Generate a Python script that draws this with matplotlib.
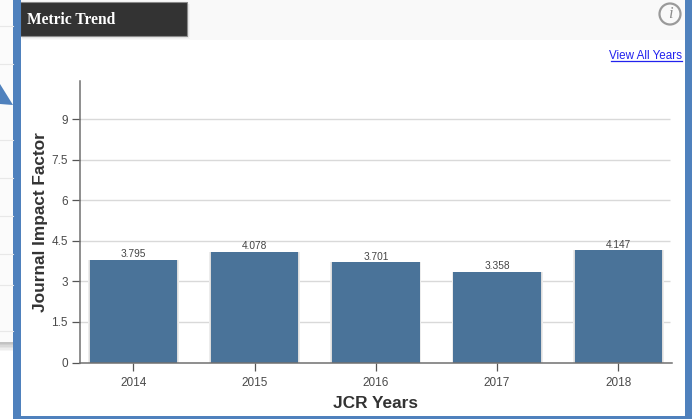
import matplotlib
matplotlib.use("Agg")
import matplotlib.pyplot as plt
from matplotlib.patches import Rectangle, Polygon, Circle

years = ["2014", "2015", "2016", "2017", "2018"]
impact = [3.795, 4.078, 3.701, 3.358, 4.147]
impact_labels = ["3.795", "4.078", "3.701", "3.358", "4.147"]
yticks = [0, 1.5, 3, 4.5, 6, 7.5, 9]
ytick_labels = ["0", "1.5", "3", "4.5", "6", "7.5", "9"]

W, H = 692, 419
plt.rcParams['font.family'] = ['Liberation Sans', 'DejaVu Sans']
fig = plt.figure(figsize=(W/100, H/100), dpi=100, facecolor='white')

bg = fig.add_axes([0, 0, 1, 1], zorder=0)
bg.set_xlim(0, W); bg.set_ylim(H, 0); bg.axis('off')
# page behind the popup
bg.add_patch(Rectangle((0, 0), 13, 342, fc='#fbfbfb', ec='none'))
for y in [26, 64, 140, 178, 216, 254, 285, 331]:
    bg.plot([0, 13], [y, y], color='#e8e8e8', lw=0.8)
for i, a in enumerate([0.55, 0.45, 0.35, 0.25, 0.16, 0.08]):
    bg.add_patch(Rectangle((0, 342 + i*1.5), 13, 1.5, fc='#909090', ec='none', alpha=a))
bg.add_patch(Polygon([(0, 84), (13, 105), (0, 104)], fc='#4f81bd', ec='none'))
# popup
bg.add_patch(Rectangle((20, 0), 665, 40, fc='#f9f9f9', ec='none'))
for i, c in enumerate(['#dddddd', '#e8e8e8', '#f1f1f1']):
    bg.add_patch(Rectangle((22, 36 + i), 166 + i, 1, fc=c, ec='none'))
    bg.add_patch(Rectangle((187 + i, 4), 1, 33, fc=c, ec='none'))
bg.add_patch(Rectangle((20, 2), 167, 34, fc='#333333', ec='#8a8a8a', lw=0.8))
bg.text(27, 19.5, "Metric Trend", color='white', family=['Liberation Serif'],
        fontsize=11.2, fontweight='bold', va='center', ha='left')
bg.add_patch(Circle((670, 14), 10.5, fc='none', ec='#9a9a9a', lw=1.6))
bg.text(670.5, 14.5, "i", color='#8c8c8c', family=['Liberation Serif'], fontsize=12,
        style='italic', va='center', ha='center')
bg.text(682, 56, "View All Years", color='#2222ee', fontsize=8.4, ha='right', va='center')
bg.plot([611, 682], [61.5, 61.5], color='#2222ee', lw=0.9)
# blue frame
bg.add_patch(Rectangle((12.5, 0), 8, H, fc='#4f81bd', ec='none'))
bg.add_patch(Rectangle((685, 0), 7, H, fc='#4f81bd', ec='none'))
bg.add_patch(Rectangle((12.5, 416), 679.5, 3, fc='#4f81bd', ec='none'))

left, right, top, bottom = 79.5, 672, 81, 362.5
ax = fig.add_axes([left/W, 1-bottom/H, (right-left)/W, (bottom-top)/H], zorder=1)
ax.patch.set_alpha(0)
ax.set_xlim(-0.4455, 4.443)
ax.set_ylim(0, (bottom-top)/27.05)
ax.hlines(yticks[1:], -0.4455, 4.43, color='#d9d9d9', lw=1, zorder=1)
pos = list(range(len(years)))
# soft bar shadow
ax.bar(pos, impact, width=0.75, color='#ececec', zorder=1.5)
ax.bar(pos, impact, width=0.735, color='#dddddd', zorder=1.6)
bars = ax.bar(pos, impact, width=0.722, color='#4a7399', zorder=2)
for r, lab in zip(bars, impact_labels):
    ax.text(r.get_x()+r.get_width()/2, r.get_height()+0.03, lab, ha='center', va='bottom',
            fontsize=7.3, color='#444444', zorder=3)
ax.set_xticks(pos, years)
ax.set_yticks(yticks, ytick_labels)
ax.tick_params(axis='x', length=5.5, width=0.9, color='#555555', labelcolor='#4a4a4a',
               labelsize=8.5, pad=5)
ax.tick_params(axis='y', length=5.5, width=0.9, color='#555555', labelcolor='#4a4a4a',
               labelsize=8.5, pad=3)
for s in ['top', 'right']:
    ax.spines[s].set_visible(False)
for s in ['left', 'bottom']:
    ax.spines[s].set_color('#707070')
    ax.spines[s].set_linewidth(1.1)
bg.text(40.5, 222, "Journal Impact Factor", rotation=90, ha='center', va='center',
        fontsize=12.4, fontweight='bold', color='#333333')
bg.text(375.5, 403.5, "JCR Years", ha='center', va='center',
        fontsize=12.4, fontweight='bold', color='#333333')
fig.savefig("out.png", dpi=100)
